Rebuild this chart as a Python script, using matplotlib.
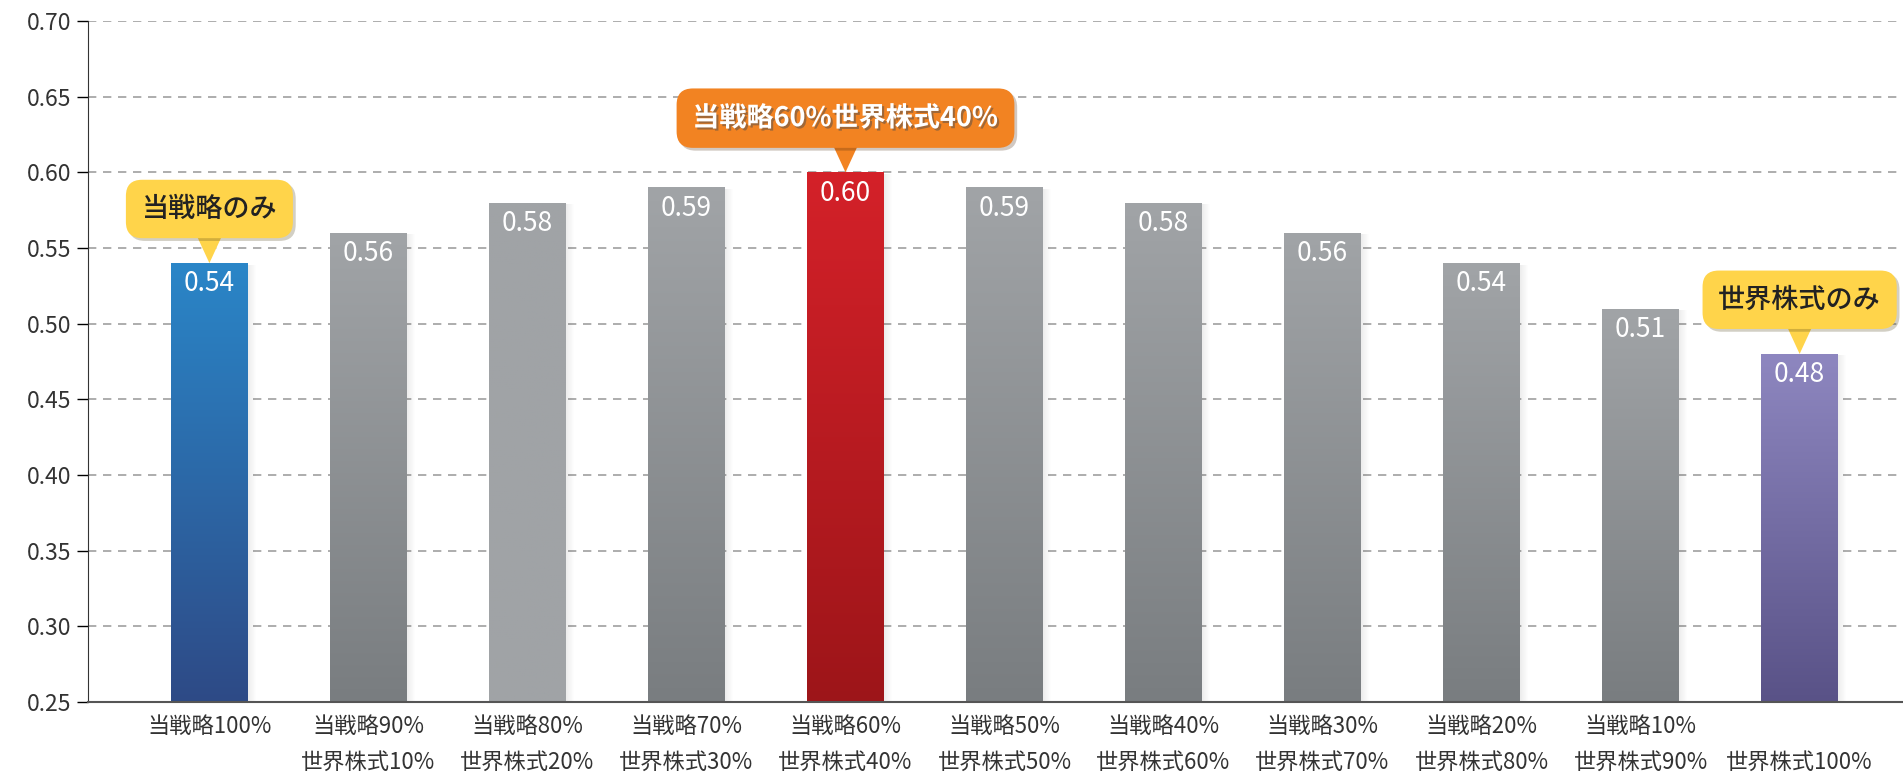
import numpy as np
import matplotlib
matplotlib.use("Agg")
import matplotlib.pyplot as plt
import matplotlib.patches as mpatches
import matplotlib.transforms as mtransforms
import matplotlib.patheffects as pe
from matplotlib.colors import LinearSegmentedColormap

plt.rcParams['font.family'] = ['Noto Sans CJK JP', 'DejaVu Sans']

# data
labels = ["当戦略100%", "当戦略90%\n世界株式10%", "当戦略80%\n世界株式20%",
          "当戦略70%\n世界株式30%", "当戦略60%\n世界株式40%", "当戦略50%\n世界株式50%",
          "当戦略40%\n世界株式60%", "当戦略30%\n世界株式70%", "当戦略20%\n世界株式80%",
          "当戦略10%\n世界株式90%", "\n世界株式100%"]
values = [0.54, 0.56, 0.58, 0.59, 0.60, 0.59, 0.58, 0.56, 0.54, 0.51, 0.48]
# bar colour (top, bottom)
bar_colors = [("#2a86c8", "#2e4a86")] + [("#a1a4a7", "#797d80")] * 10
bar_colors[2] = ("#a0a3a6", "#a0a3a6")
bar_colors[4] = ("#d42129", "#9d1519")
bar_colors[10] = ("#8e87c0", "#595287")
callouts = [(0, "当戦略のみ", "#ffd44a", "#222222"),
            (4, "当戦略60%世界株式40%", "#f28322", "white"),
            (10, "世界株式のみ", "#ffd44a", "#222222")]

fig = plt.figure(figsize=(19.03, 7.77), dpi=100)
ax = fig.add_axes([0.0462, 0.0965, 0.9538, 0.8765])

x = np.arange(len(values))
w = 0.484
ymin = 0.25

for i, v in enumerate(values):
    # shadow to the right
    for k in range(8):
        ax.add_patch(mpatches.Rectangle((i + w / 2 + k * 0.006, ymin), 0.006, v - ymin - 0.001,
                                        color="black", alpha=0.07 * (1 - k / 8), lw=0, zorder=2))
    b = ax.bar(i, v - ymin, bottom=ymin, width=w, color=bar_colors[i][1], zorder=3)[0]
    cmap = LinearSegmentedColormap.from_list("g", [bar_colors[i][1], bar_colors[i][0]])
    grad = np.linspace(0, 1, 256).reshape(-1, 1)
    im = ax.imshow(grad, cmap=cmap, aspect="auto", origin="lower",
                   extent=(i - w / 2, i + w / 2, ymin, v), zorder=3.5)
    im.set_clip_path(b)
    ax.annotate(f"{v:.2f}", (i, v), xytext=(0, -15), textcoords="offset points",
                ha="center", va="center", color="white", fontsize=19, zorder=5)

ax.set_xlim(-0.764, 10.65)
ax.set_ylim(0.25, 0.70)

ax.set_yticks(np.arange(0.25, 0.701, 0.05))
ax.set_yticklabels([f"{t:.2f}" for t in np.arange(0.25, 0.701, 0.05)])
for t in np.arange(0.30, 0.701, 0.05):
    ax.axhline(t, color="#a0a0a0", lw=1.2, ls=(0, (5, 4)), zorder=1)

ax.set_xticks(x)
ax.set_xticklabels(labels, fontsize=16, color="#333333", linespacing=1.75)
ax.tick_params(axis="x", length=0, pad=9)
ax.tick_params(axis="y", length=8, width=1, labelsize=16.5, labelcolor="#333333", pad=4)
for s in ["top", "right"]:
    ax.spines[s].set_visible(False)
ax.spines["left"].set_color("#333333")
ax.spines["bottom"].set_color("#555555")
ax.spines["bottom"].set_linewidth(1.5)
ax.spines["bottom"].set_zorder(6)

# callouts
for i, txt, fc, tc in callouts:
    v = values[i]
    tr = fig.dpi_scale_trans + mtransforms.ScaledTranslation(i, v, ax.transData)
    tri = mpatches.Polygon([(-0.12, 0.26), (0.12, 0.26), (0, 0.0)], closed=True,
                           transform=tr, fc=fc, ec="none", zorder=7)
    ax.add_patch(tri)
    weight = "bold" if tc == "white" else "medium"
    t = ax.annotate(txt, (i, v), xytext=(0, 39), textcoords="offset points",
                    ha="center", va="center", fontsize=19.5, color=tc, weight=weight, zorder=8,
                    bbox=dict(boxstyle="round,pad=0.58,rounding_size=0.6", fc=fc, ec="none"))
    t.get_bbox_patch().set_path_effects([pe.SimplePatchShadow(offset=(2, -2), alpha=0.25),
                                         pe.Normal()])
    if tc == "white":
        t.set_path_effects([pe.withSimplePatchShadow(offset=(1.5, -1.5), alpha=0.5)])

fig.savefig("out.png", dpi=100)
